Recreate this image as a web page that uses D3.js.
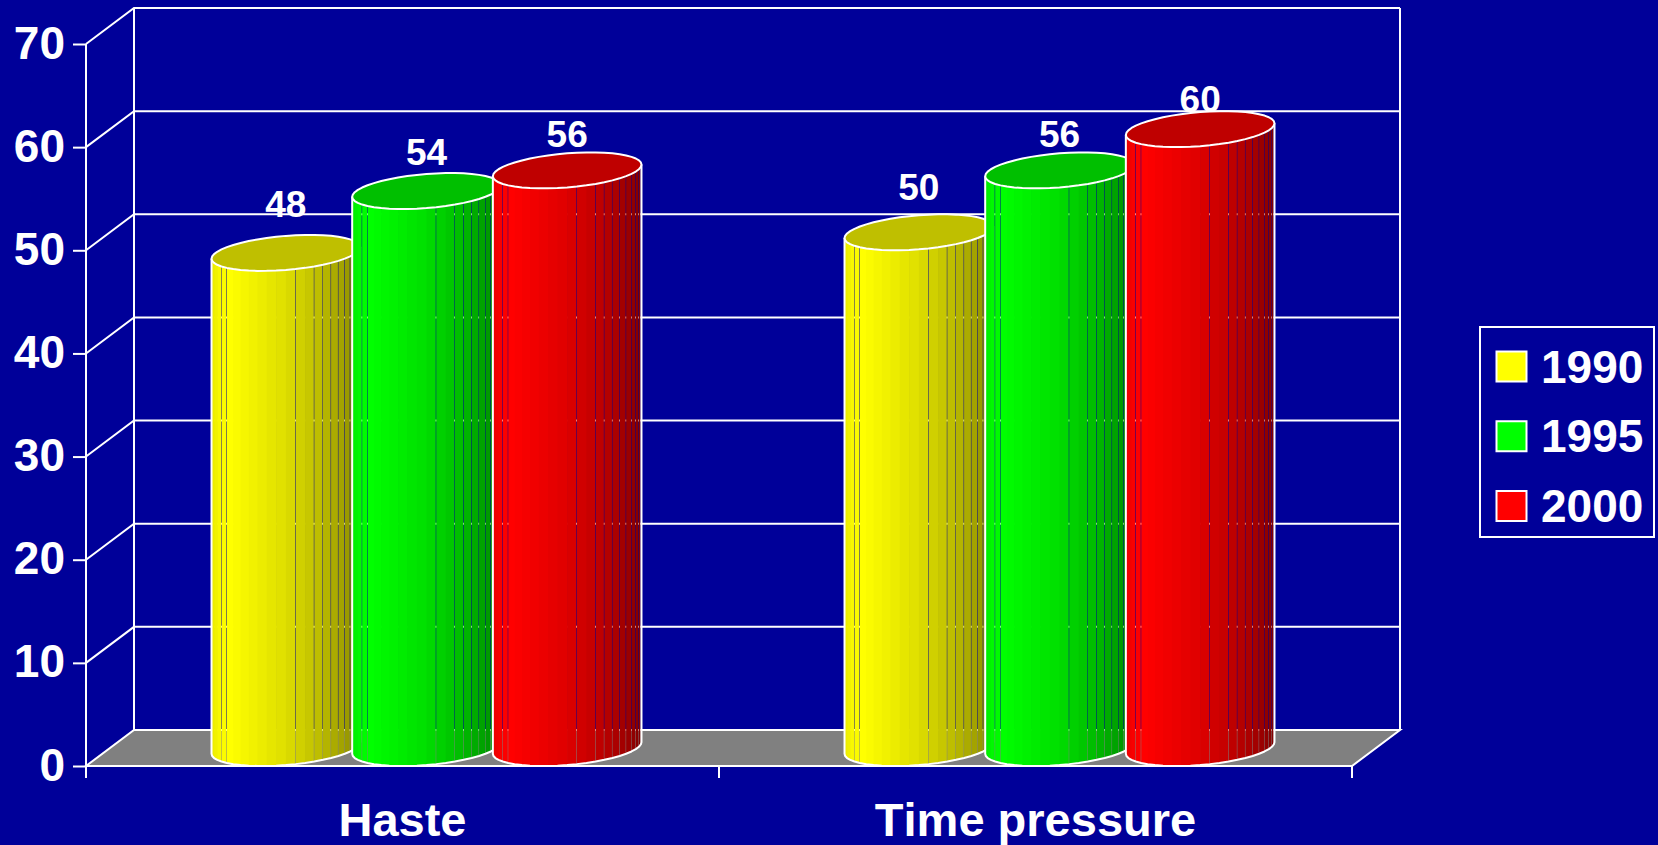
<!DOCTYPE html>
<html>
<head>
<meta charset="utf-8">
<title>Haste and time pressure, 1990-2000</title>
<script src="https://cdn.jsdelivr.net/npm/d3@7"></script>
<style>
  html, body { margin: 0; padding: 0; background: #000099; overflow: hidden; }
  svg { display: block; }
  text { font-family: "Liberation Sans", Arial, sans-serif; font-weight: bold; fill: #fff; font-kerning: none; }
</style>
</head>
<body>
<svg id="chart" width="1658" height="845"></svg>
<script>
// Chart values
const categories = ["Haste", "Time pressure"];
const years = ["1990", "1995", "2000"];
const values1990 = [48, 50];
const values1995 = [54, 56];
const values2000 = [56, 60];
const yTicks = [0, 10, 20, 30, 40, 50, 60, 70];
const seriesColors = ["#ffff00", "#00ff00", "#ff0000"];
const seriesValues = [values1990, values1995, values2000];

// Plot frame: the front plane plus the oblique offset of the back wall
const frontLeft = 86, frontRight = 1352, floorY = 766, topY = 44;
const depthX = 48, depthY = 36;
const LINE = "#ffffff";

const svg = d3.select("#chart");

const y = d3.scaleLinear().domain([0, 70]).range([floorY, topY]);
const x0 = d3.scaleBand().domain(categories).range([frontLeft, frontRight]);
const x1 = d3.scaleBand().domain(years).range([0, x0.bandwidth()])
  .paddingInner(0).paddingOuter(0.75);
// Value labels ride on their own slightly compressed scale
const labelY = d3.scaleLinear().domain([48, 60]).range([217, 112]);

// Walls and floor
const walls = svg.append("g").attr("fill", "none").attr("stroke", LINE).attr("stroke-width", 2);
walls.append("path")
  .attr("d", d3.line()([
    [frontLeft, floorY], [frontRight, floorY],
    [frontRight + depthX, floorY - depthY], [frontLeft + depthX, floorY - depthY]
  ]) + "Z")
  .attr("fill", "#808080");

yTicks.forEach(t => {
  if (t > 0) {
    walls.append("path").attr("d", d3.line()([
      [frontLeft, y(t)],
      [frontLeft + depthX, y(t) - depthY],
      [frontRight + depthX, y(t) - depthY]
    ]));
  }
});
[frontLeft + depthX, frontRight + depthX].forEach(px => {
  walls.append("line")
    .attr("x1", px).attr("x2", px)
    .attr("y1", y(70) - depthY).attr("y2", floorY - depthY);
});

// Value axis
const yAxis = svg.append("g")
  .attr("transform", `translate(${frontLeft},0)`)
  .call(d3.axisLeft(y).tickValues(yTicks).tickSize(13).tickPadding(8).tickFormat(d3.format("d")));
yAxis.select(".domain").remove();
yAxis.selectAll("line").attr("stroke", LINE).attr("stroke-width", 2);
yAxis.selectAll("text").attr("font-size", 46).attr("dy", 14).attr("fill", LINE)
  .style("font-family", '"Liberation Sans", Arial, sans-serif');
svg.append("line")
  .attr("x1", frontLeft).attr("x2", frontLeft)
  .attr("y1", y(70)).attr("y2", floorY + 12)
  .attr("stroke", LINE).attr("stroke-width", 2);

// Category axis: ticks sit on band edges, labels at band centres
const xAxis = svg.append("g")
  .attr("transform", `translate(0,${floorY})`)
  .call(d3.axisBottom(x0).tickSize(0).tickPadding(0));
xAxis.select(".domain").remove();
xAxis.selectAll("line").remove();
xAxis.selectAll("text").attr("font-size", 47).attr("y", 70).attr("dy", 0).attr("fill", LINE)
  .style("font-family", '"Liberation Sans", Arial, sans-serif');
[...categories.map(c => x0(c)), frontRight].forEach(px => {
  svg.append("line")
    .attr("x1", px).attr("x2", px)
    .attr("y1", floorY).attr("y2", floorY + 12)
    .attr("stroke", LINE).attr("stroke-width", 2);
});

// Cylinders: a circle in plan projected obliquely, so its outline is a sheared ellipse
const STEP = 7.5;                       // facet size in degrees
const seamAngles = [30, 37.5, 97.5, 112.5, 120, 127.5, 135, 142.5, 150, 157.5, 165, 172.5];
const shade = d3.scaleLinear()
  .domain([0, 0.05, 0.12, 0.5, 0.7, 0.9, 1])
  .range([0.92, 0.97, 1, 0.87, 0.76, 0.62, 0.5]);

function rim(cx, cy, rx, a) {
  // a is measured from the leftmost silhouette point, running round through the front
  const phi = Math.atan2(depthX / 2, rx);
  const t = Math.PI + phi + a * Math.PI / 180;
  return [
    cx + rx * Math.cos(t) + depthX / 2 * Math.sin(t),
    cy - depthY / 2 * Math.sin(t)
  ];
}

function drawCylinder(g, left, value, color) {
  const rx = x1.bandwidth() / 2;
  const cx = left + rx + depthX / 2;
  const topC = y(value) - depthY / 2;
  const botC = floorY - depthY / 2;
  const base = d3.rgb(color);
  const halfW = Math.hypot(rx, depthX / 2);

  const angles = d3.range(0, 180 + STEP, STEP);
  angles.slice(0, -1).forEach((a, i) => {
    const b = angles[i + 1];
    const [xa, ya1] = rim(cx, topC, rx, a);
    const [xb, yb1] = rim(cx, topC, rx, b);
    const [, ya2] = rim(cx, botC, rx, a);
    const [, yb2] = rim(cx, botC, rx, b);
    const u = ((xa + xb) / 2 - (cx - halfW)) / (2 * halfW);
    const s = shade(u);
    // Neighbouring facets overlap a little, except along the visible seams
    const seam = seamAngles.includes(b);
    const xEnd = b >= 180 ? xb : (seam ? xb - 0.45 : xb + 0.7);
    g.append("path")
      .attr("d", d3.line()([[xa, ya1], [xEnd, yb1], [xEnd, yb2], [xa, ya2]]) + "Z")
      .attr("fill", d3.rgb(base.r * s, base.g * s, base.b * s).formatHex());
  });

  // Silhouette of the sides and the base curve
  const base2 = angles.map(a => rim(cx, botC, rx, a));
  const topL = rim(cx, topC, rx, 0), topR = rim(cx, topC, rx, 180);
  g.append("path")
    .attr("d", d3.line()([topL, ...base2, topR]))
    .attr("fill", "none").attr("stroke", LINE).attr("stroke-width", 2)
    .attr("stroke-linejoin", "round");

  // Cap
  const capPts = d3.range(0, 360, STEP).map(a => rim(cx, topC, rx, a));
  g.append("path")
    .attr("d", d3.line()(capPts) + "Z")
    .attr("fill", d3.rgb(base.r * 0.75, base.g * 0.75, base.b * 0.75).formatHex())
    .attr("stroke", LINE).attr("stroke-width", 2).attr("stroke-linejoin", "round");
}

const bars = svg.append("g");
categories.forEach((cat, ci) => {
  years.forEach((yr, si) => {
    drawCylinder(bars.append("g"), x0(cat) + x1(yr), seriesValues[si][ci], seriesColors[si]);
  });
});

// Value labels
categories.forEach((cat, ci) => {
  years.forEach((yr, si) => {
    const v = seriesValues[si][ci];
    svg.append("text")
      .attr("x", x0(cat) + x1(yr) + x1.bandwidth() / 2 + depthX / 2)
      .attr("y", labelY(v))
      .attr("text-anchor", "middle")
      .attr("font-size", 37)
      .text(v);
  });
});

// Legend
const legend = svg.append("g");
legend.append("rect")
  .attr("x", 1480).attr("y", 327).attr("width", 174).attr("height", 210)
  .attr("fill", "none").attr("stroke", LINE).attr("stroke-width", 2);
const legendY = d3.scalePoint().domain(years).range([366.5, 506]);
years.forEach((yr, i) => {
  legend.append("rect")
    .attr("x", 1496.5).attr("y", legendY(yr) - 15)
    .attr("width", 30).attr("height", 30)
    .attr("fill", seriesColors[i]).attr("stroke", LINE).attr("stroke-width", 2);
  legend.append("text")
    .attr("x", 1541).attr("y", legendY(yr) + 16)
    .attr("font-size", 46)
    .text(yr);
});
</script>
</body>
</html>
